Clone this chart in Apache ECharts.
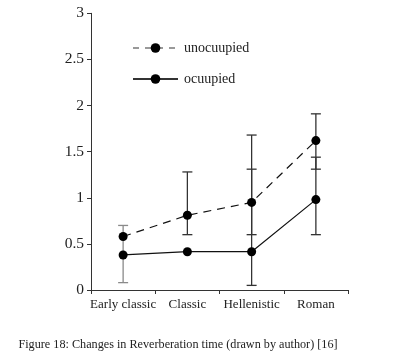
<!DOCTYPE html>
<html><head><meta charset="utf-8">
<script src="https://cdn.jsdelivr.net/npm/echarts@6/dist/echarts.min.js"></script>
<style>html,body{margin:0;padding:0;background:#fff}#c{width:408px;height:361px}</style>
</head><body><div id="c"></div>
<script>
var categories = ['Early classic', 'Classic', 'Hellenistic', 'Roman'];
var unoccupied = [0.58, 0.81, 0.95, 1.62];
var occupied = [0.38, 0.415, 0.415, 0.98];
// error bars [category index, low, high]
var unoccErr = [[1, 0.60, 1.28], [2, 0.60, 1.31], [3, 1.31, 1.91]];
var occErr = [[0, 0.08, 0.70], [2, 0.05, 1.68], [3, 0.60, 1.44]];
var yTicks = [0, 0.5, 1, 1.5, 2, 2.5, 3];
var caption = 'Figure 18: Changes in Reverberation time (drawn by author) [16]';

var FONT = 'Liberation Serif';
function errRender(params, api) {
  var idx = api.value(0);
  var lo = api.coord([idx, api.value(1)]);
  var hi = api.coord([idx, api.value(2)]);
  var w = 5;
  var col = idx === 0 ? '#8a8a8a' : '#333';
  var st = {stroke: col, lineWidth: 1.3};
  return {type: 'group', children: [
    {type: 'line', shape: {x1: lo[0], y1: lo[1], x2: hi[0], y2: hi[1]}, style: st},
    {type: 'line', shape: {x1: lo[0]-w, y1: lo[1], x2: lo[0]+w, y2: lo[1]}, style: st},
    {type: 'line', shape: {x1: hi[0]-w, y1: hi[1], x2: hi[0]+w, y2: hi[1]}, style: st}
  ]};
}
var chart = echarts.init(document.getElementById('c'));
chart.setOption({
  animation: false,
  backgroundColor: '#fff',
  title: {text: caption, left: 173, textAlign: 'center', top: 334,
    textStyle: {fontFamily: FONT, fontSize: 12.2, fontWeight: 'normal', color: '#222'}},
  grid: {left: 91, right: 60, top: 13.3, bottom: 71},
  legend: {
    orient: 'vertical', left: 127, top: 36, itemWidth: 45, itemHeight: 12, itemGap: 17,
    textStyle: {fontFamily: FONT, fontSize: 14, color: '#222', padding: [0,0,0,1]},
    data: [
      {name: 'unocuupied', lineStyle: {color: '#999', type: [6,6]}},
      {name: 'ocuupied', lineStyle: {color: '#333'}}
    ]
  },
  xAxis: {
    type: 'category', data: categories, boundaryGap: true,
    axisLine: {lineStyle: {color: '#333', width: 1}},
    axisTick: {show: true, length: 4, alignWithLabel: false, lineStyle: {color: '#333'}},
    axisLabel: {fontFamily: FONT, fontSize: 13, color: '#222', margin: 8, interval: 0}
  },
  yAxis: {
    type: 'value', min: 0, max: 3, interval: 0.5,
    axisLine: {show: true, lineStyle: {color: '#333', width: 1}},
    axisTick: {show: true, length: 4, lineStyle: {color: '#333'}},
    splitLine: {show: false},
    axisLabel: {fontFamily: FONT, fontSize: 15.5, color: '#222', margin: 7,
      formatter: function (v) { return yTicks.indexOf(v) >= 0 ? String(v) : ''; }}
  },
  series: [
    {type: 'custom', renderItem: errRender, data: unoccErr, encode: {x: 0, y: [1, 2]}, z: 1, silent: true},
    {type: 'custom', renderItem: errRender, data: occErr, encode: {x: 0, y: [1, 2]}, z: 1, silent: true},
    {name: 'unocuupied', type: 'line', data: unoccupied, symbol: 'circle', symbolSize: 9,
      itemStyle: {color: '#000'}, lineStyle: {color: '#111', width: 1.2, type: [8,6]}, z: 3},
    {name: 'ocuupied', type: 'line', data: occupied, symbol: 'circle', symbolSize: 9,
      itemStyle: {color: '#000'}, lineStyle: {color: '#111', width: 1.2}, z: 3}
  ]
});
</script></body></html>
